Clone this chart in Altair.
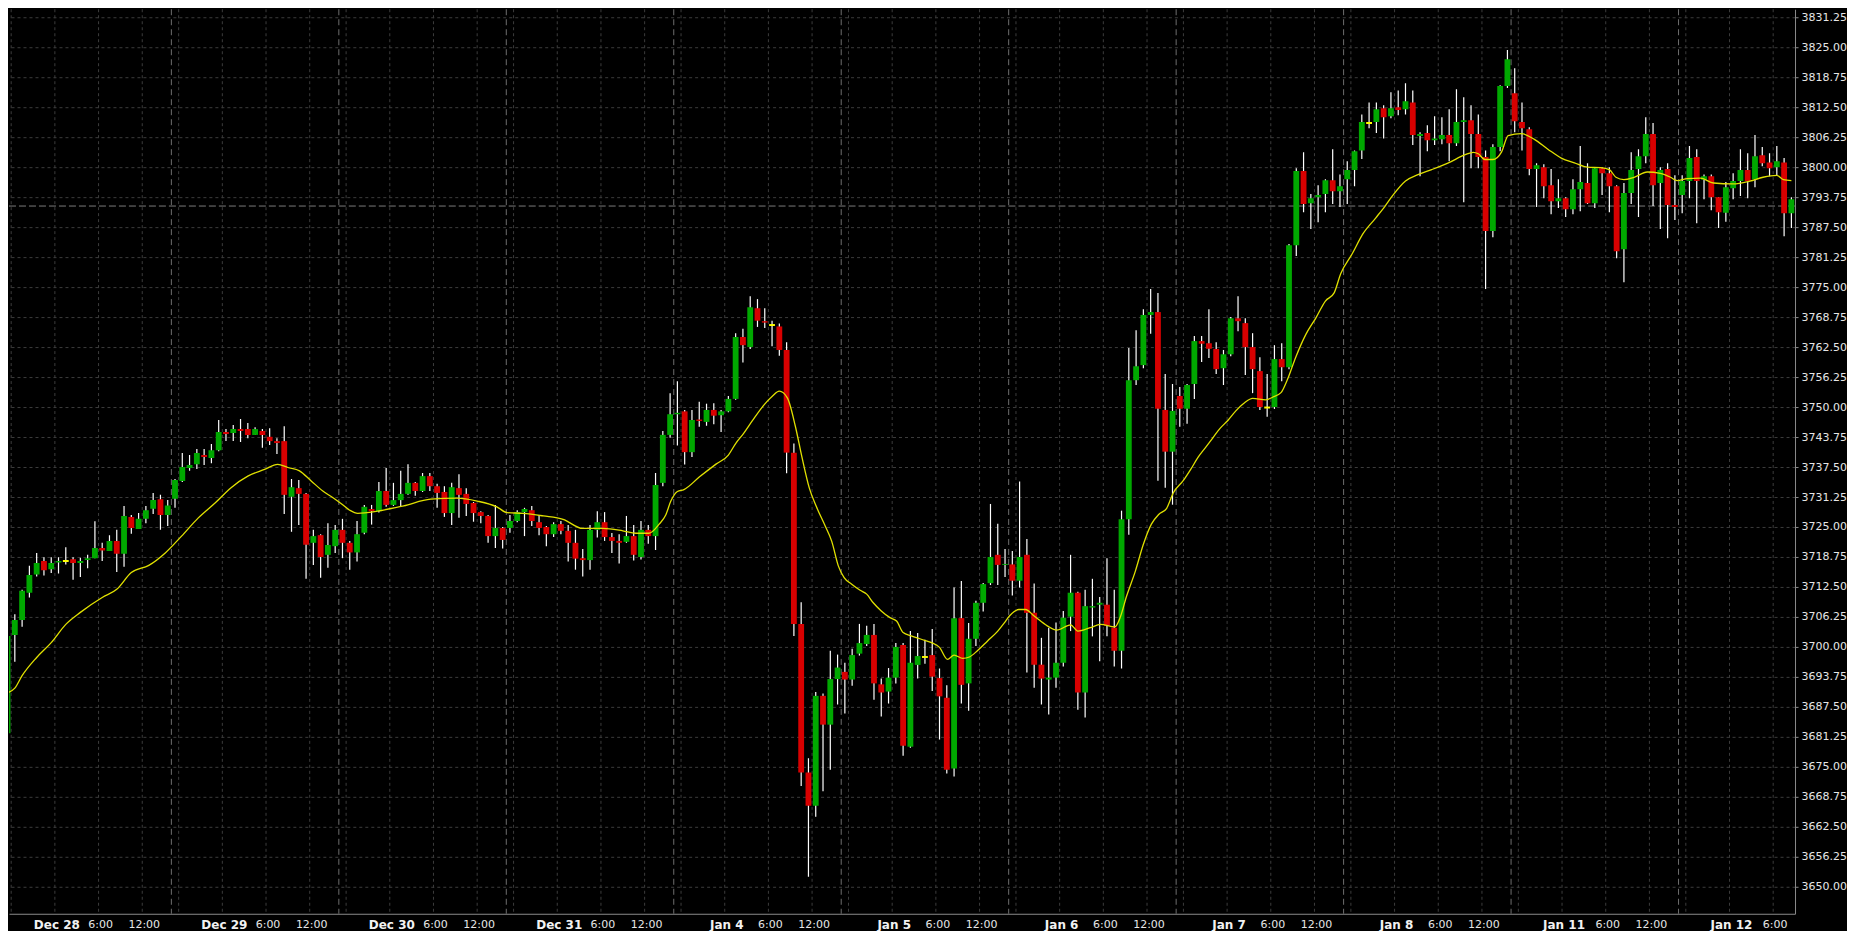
import altair as alt
import pandas as pd

# ---------------- data (hourly candles) ----------------
opens = [
    3682.0, 3702.5, 3705.6, 3711.3, 3715.1, 3717.9, 3716.2, 3717.6, 3717.9, 3718.3,
    3717.5, 3718.1, 3718.5, 3720.6, 3720.0, 3722.1, 3719.4, 3727.1, 3724.6, 3726.7,
    3728.8, 3730.8, 3727.5, 3730.9, 3734.6, 3737.3, 3738.1, 3740.0, 3739.4, 3741.0,
    3744.8, 3744.6, 3745.4, 3745.4, 3744.2, 3745.0, 3743.8, 3742.9, 3742.9, 3731.3,
    3733.1, 3731.9, 3721.7, 3723.3, 3719.2, 3721.0, 3724.4, 3721.7, 3719.7, 3723.8,
    3728.75, 3728.3, 3732.5, 3729.6, 3730.6, 3731.9, 3734.2, 3732.5, 3735.6, 3733.5,
    3732.3, 3727.9, 3733.1, 3731.9, 3730.0, 3728.1, 3727.3, 3723.1, 3724.8, 3724.8,
    3726.25, 3728.1, 3728.5, 3726.0, 3725.0, 3723.5, 3725.6, 3724.2, 3721.7, 3718.5,
    3718.1, 3724.4, 3726.0, 3722.9, 3722.1, 3721.9, 3723.1, 3718.75, 3724.4, 3723.1,
    3734.2, 3744.2, 3748.5, 3749.1, 3740.6, 3747.4, 3746.9, 3749.4, 3748.3, 3749.1,
    3751.7, 3764.6, 3762.5, 3770.6, 3767.9, 3767.1, 3766.8, 3761.9, 3740.5, 3704.8,
    3673.8, 3666.9, 3689.8, 3683.8, 3693.3, 3694.8, 3693.2, 3698.6, 3700.6, 3702.5,
    3692.2, 3690.7, 3693.6, 3700.4, 3679.2, 3696.25, 3697.9, 3698.3, 3693.5, 3689.4,
    3674.65, 3706.0, 3692.4, 3701.7, 3709.2, 3713.3, 3719.2, 3717.1, 3717.2, 3713.8,
    3719.2, 3707.1, 3696.3, 3693.2, 3693.6, 3696.7, 3706.3, 3711.3, 3690.5, 3708.2,
    3708.8, 3708.8, 3704.0, 3699.2, 3726.6, 3755.6, 3758.75, 3769.2, 3769.8, 3749.4,
    3740.7, 3752.3, 3749.65, 3754.8, 3763.75, 3763.3, 3762.1, 3758.1, 3761.0, 3768.5,
    3767.5, 3762.5, 3757.5, 3749.9, 3750.0, 3760.0, 3758.3, 3783.75, 3799.2, 3792.5,
    3793.75, 3794.4, 3797.3, 3795.0, 3797.5, 3799.4, 3803.5, 3809.2, 3809.4, 3812.3,
    3810.6, 3812.5, 3812.1, 3813.5, 3806.5, 3807.1, 3805.6, 3805.8, 3806.7, 3805.0,
    3809.4, 3809.8, 3806.9, 3802.1, 3786.7, 3804.2, 3816.9, 3815.4, 3809.4, 3807.9,
    3799.6, 3800.0, 3796.25, 3792.9, 3793.5, 3791.25, 3795.4, 3796.7, 3792.5, 3799.8,
    3798.75, 3796.0, 3782.9, 3794.6, 3799.6, 3802.3, 3806.9, 3796.7, 3799.6, 3792.1,
    3794.2, 3797.1, 3802.1, 3797.4, 3798.1, 3793.75, 3790.5, 3795.6, 3797.1, 3799.4,
    3797.5, 3802.5, 3801.0, 3800.0, 3801.0, 3790.4,
]
highs = [
    3703.0, 3706.8, 3711.9, 3716.9, 3719.6, 3718.7, 3718.7, 3718.7, 3720.8, 3718.7,
    3718.6, 3719.2, 3726.2, 3721.7, 3723.3, 3724.4, 3729.4, 3727.5, 3727.9, 3729.4,
    3732.1, 3731.7, 3730.6, 3735.0, 3740.4, 3740.0, 3741.25, 3741.25, 3742.3, 3747.3,
    3745.4, 3746.25, 3747.5, 3746.7, 3745.8, 3745.4, 3745.6, 3743.5, 3746.0, 3735.0,
    3734.8, 3732.1, 3724.4, 3723.5, 3725.8, 3725.4, 3726.7, 3722.1, 3726.25, 3729.6,
    3729.6, 3734.4, 3737.3, 3734.2, 3736.7, 3738.1, 3734.4, 3736.25, 3736.25, 3734.0,
    3733.5, 3734.2, 3736.0, 3733.1, 3730.2, 3728.3, 3727.5, 3729.6, 3725.0, 3727.5,
    3728.5, 3729.0, 3729.4, 3727.5, 3725.2, 3726.0, 3726.25, 3725.4, 3724.4, 3720.4,
    3725.4, 3728.3, 3728.1, 3723.75, 3723.5, 3727.3, 3725.4, 3726.25, 3725.4, 3736.25,
    3745.0, 3752.9, 3755.4, 3749.4, 3749.4, 3751.1, 3750.7, 3750.8, 3749.4, 3752.3,
    3765.4, 3766.3, 3773.1, 3772.5, 3770.6, 3768.0, 3767.4, 3763.5, 3742.4, 3709.3,
    3676.8, 3690.6, 3690.3, 3699.2, 3698.4, 3696.7, 3699.6, 3704.8, 3704.4, 3704.8,
    3693.4, 3695.6, 3700.8, 3700.8, 3703.3, 3702.9, 3701.5, 3703.75, 3695.5, 3692.0,
    3712.4, 3713.75, 3705.0, 3709.6, 3713.3, 3729.8, 3725.7, 3720.4, 3720.0, 3734.5,
    3722.5, 3713.2, 3701.9, 3704.0, 3705.1, 3707.5, 3719.2, 3711.5, 3711.9, 3714.2,
    3710.4, 3718.5, 3711.9, 3728.4, 3762.3, 3766.0, 3770.4, 3774.6, 3773.75, 3756.9,
    3754.8, 3754.2, 3754.8, 3764.8, 3764.8, 3770.4, 3763.5, 3761.9, 3768.75, 3773.1,
    3768.5, 3765.4, 3760.4, 3756.9, 3762.9, 3763.3, 3784.0, 3799.8, 3803.1, 3794.4,
    3796.25, 3797.5, 3803.75, 3798.5, 3801.25, 3803.5, 3811.0, 3813.5, 3813.5, 3812.9,
    3815.6, 3816.0, 3817.5, 3816.0, 3807.3, 3808.75, 3810.6, 3810.4, 3812.1, 3816.25,
    3814.6, 3812.9, 3811.0, 3803.5, 3804.8, 3817.1, 3824.4, 3820.6, 3813.5, 3808.3,
    3800.8, 3800.6, 3799.6, 3797.5, 3793.75, 3797.5, 3804.4, 3800.8, 3800.0, 3800.0,
    3800.0, 3796.25, 3796.7, 3803.1, 3803.75, 3810.4, 3809.2, 3800.0, 3800.8, 3798.3,
    3798.3, 3804.4, 3803.75, 3798.5, 3798.5, 3793.75, 3796.9, 3798.75, 3803.75, 3802.9,
    3806.7, 3804.2, 3802.9, 3804.4, 3801.9, 3793.75,
]
lows = [
    3681.0, 3696.9, 3704.2, 3710.3, 3714.7, 3714.9, 3715.4, 3715.3, 3717.2, 3714.0,
    3714.6, 3716.4, 3718.5, 3717.9, 3720.0, 3715.6, 3716.7, 3723.6, 3724.6, 3725.8,
    3727.7, 3724.4, 3725.2, 3729.0, 3734.4, 3736.7, 3737.1, 3737.9, 3738.3, 3740.8,
    3742.9, 3742.9, 3742.7, 3743.5, 3744.2, 3741.5, 3742.1, 3740.2, 3727.7, 3724.0,
    3725.4, 3714.2, 3717.1, 3714.4, 3716.5, 3719.6, 3718.5, 3716.1, 3717.8, 3723.5,
    3725.5, 3728.0, 3729.2, 3729.4, 3729.4, 3731.7, 3731.5, 3732.3, 3732.5, 3729.0,
    3727.1, 3725.4, 3726.9, 3727.3, 3726.1, 3725.8, 3721.7, 3720.6, 3720.5, 3723.8,
    3726.0, 3723.1, 3725.2, 3723.3, 3721.0, 3722.9, 3723.5, 3717.8, 3716.1, 3714.7,
    3716.1, 3722.8, 3722.1, 3719.6, 3717.4, 3721.7, 3718.0, 3718.2, 3721.5, 3720.2,
    3733.5, 3743.6, 3742.0, 3738.0, 3739.6, 3745.9, 3746.1, 3746.4, 3744.8, 3748.9,
    3751.5, 3759.3, 3762.1, 3766.7, 3766.5, 3762.7, 3760.7, 3736.2, 3702.3, 3671.0,
    3652.1, 3664.6, 3669.9, 3674.4, 3688.0, 3686.1, 3691.9, 3698.2, 3700.2, 3689.0,
    3685.5, 3688.2, 3692.4, 3677.3, 3679.0, 3693.4, 3696.5, 3690.8, 3680.7, 3673.6,
    3673.0, 3688.2, 3686.7, 3700.2, 3707.4, 3712.9, 3712.9, 3714.6, 3710.7, 3712.4,
    3694.65, 3691.5, 3688.0, 3685.9, 3691.5, 3695.9, 3703.3, 3686.9, 3685.3, 3702.2,
    3697.0, 3702.2, 3695.9, 3695.5, 3723.4, 3754.6, 3758.1, 3765.3, 3734.65, 3733.2,
    3729.65, 3745.9, 3746.5, 3751.7, 3759.4, 3760.2, 3756.9, 3754.6, 3760.6, 3765.8,
    3756.7, 3752.9, 3749.4, 3748.0, 3749.6, 3755.4, 3757.9, 3781.5, 3790.6, 3787.1,
    3788.5, 3790.6, 3792.3, 3791.7, 3792.3, 3796.0, 3801.7, 3808.1, 3807.1, 3806.0,
    3810.2, 3810.8, 3811.0, 3804.6, 3798.1, 3803.3, 3804.6, 3804.8, 3801.25, 3804.4,
    3792.7, 3799.8, 3799.8, 3774.6, 3785.4, 3803.3, 3816.5, 3807.3, 3803.5, 3798.3,
    3791.7, 3793.5, 3790.2, 3791.5, 3789.6, 3790.2, 3790.8, 3792.3, 3791.5, 3794.2,
    3790.6, 3781.0, 3776.0, 3792.3, 3789.6, 3800.8, 3791.9, 3787.1, 3785.2, 3789.0,
    3790.4, 3793.5, 3788.3, 3793.3, 3791.0, 3787.3, 3788.6, 3793.3, 3794.0, 3793.5,
    3795.8, 3800.2, 3798.1, 3798.3, 3785.6, 3787.3,
]
closes = [
    3702.3, 3705.6, 3711.7, 3715.0, 3717.5, 3716.0, 3717.5, 3717.9, 3717.9, 3717.5,
    3717.9, 3718.5, 3720.6, 3720.1, 3722.1, 3719.4, 3727.3, 3724.8, 3726.7, 3728.5,
    3730.6, 3727.5, 3729.5, 3734.8, 3737.5, 3737.9, 3740.4, 3739.6, 3741.0, 3744.8,
    3744.4, 3745.4, 3745.0, 3744.2, 3745.4, 3744.2, 3742.9, 3742.5, 3731.7, 3733.3,
    3731.9, 3721.3, 3723.1, 3718.75, 3721.25, 3724.4, 3721.7, 3719.7, 3723.5, 3729.2,
    3728.3, 3732.5, 3729.6, 3730.6, 3731.9, 3734.2, 3732.5, 3735.6, 3733.5, 3732.1,
    3727.9, 3733.3, 3731.7, 3729.8, 3727.9, 3727.3, 3723.1, 3724.8, 3722.3, 3726.25,
    3728.1, 3728.75, 3726.25, 3724.8, 3723.5, 3725.6, 3724.2, 3721.7, 3718.4, 3718.1,
    3724.4, 3726.0, 3722.9, 3722.1, 3721.7, 3723.1, 3719.2, 3724.4, 3723.1, 3733.75,
    3744.2, 3748.5, 3748.8, 3740.6, 3747.3, 3747.1, 3749.4, 3748.2, 3749.1, 3751.7,
    3764.6, 3762.9, 3770.8, 3768.0, 3767.6, 3767.1, 3761.9, 3740.5, 3704.8, 3673.8,
    3666.9, 3689.8, 3683.8, 3693.3, 3695.7, 3693.2, 3698.3, 3700.8, 3702.5, 3692.4,
    3690.5, 3693.6, 3700.0, 3679.4, 3696.7, 3698.1, 3697.9, 3693.8, 3689.7, 3674.4,
    3706.0, 3692.1, 3701.7, 3709.2, 3713.1, 3718.75, 3717.1, 3717.3, 3713.8, 3718.75,
    3707.1, 3696.3, 3693.4, 3693.6, 3696.7, 3706.1, 3711.3, 3690.5, 3708.5, 3708.5,
    3709.2, 3704.4, 3699.2, 3726.6, 3755.6, 3758.5, 3769.2, 3769.8, 3749.65, 3740.7,
    3749.2, 3749.65, 3754.6, 3763.75, 3763.2, 3762.15, 3757.9, 3761.0, 3768.5, 3767.9,
    3762.5, 3757.9, 3750.0, 3749.9, 3760.0, 3758.3, 3783.75, 3799.2, 3792.3, 3793.5,
    3794.2, 3797.3, 3795.0, 3796.0, 3799.4, 3803.3, 3809.4, 3809.2, 3812.1, 3810.4,
    3812.3, 3811.9, 3813.75, 3806.7, 3806.9, 3805.6, 3806.0, 3806.7, 3805.0, 3809.4,
    3809.8, 3806.9, 3802.1, 3786.7, 3804.2, 3816.9, 3822.5, 3809.6, 3808.1, 3799.6,
    3800.4, 3796.0, 3792.9, 3793.5, 3791.25, 3795.4, 3796.9, 3792.5, 3799.8, 3798.75,
    3796.0, 3782.5, 3794.6, 3799.4, 3802.3, 3806.9, 3796.25, 3799.4, 3792.1, 3791.7,
    3797.1, 3801.9, 3797.1, 3798.1, 3793.75, 3790.6, 3795.8, 3797.1, 3799.4, 3797.1,
    3802.3, 3800.8, 3799.8, 3801.25, 3790.4, 3793.3,
]

# moving-average line (bar position, value)
ma_pos = [
    0, 1, 2, 4, 6, 8, 10, 13, 15, 17,
    19.4, 21.7, 23.9, 26.2, 28.5, 30.7, 33.0, 35.3, 37.1, 38.5,
    40.1, 41.7, 43.3, 44.7, 45.8, 47.0, 48.1, 50.8, 54.4, 58.1,
    61.7, 64.5, 67.2, 68.6, 70.8, 73.6, 76.3, 79.0, 81.8, 84.5,
    86.3, 88.1, 89.5, 90.4, 91.1, 92.0, 92.9, 95.0, 97.3, 99.0,
    100.0, 101.1, 102.3, 103.6, 105.0, 106.0, 107.1, 108.2, 109.1, 110.1,
    111.1, 112.3, 113.2, 114.1, 114.9, 115.9, 117.1, 118.0, 118.9, 120.0,
    121.2, 122.1, 123.0, 124.1, 125.5, 126.9, 128.0, 129.1, 130.0, 131.2,
    132.1, 133.2, 134.6, 136.0, 136.9, 137.6, 138.9, 139.8, 141.0, 142.8,
    144.1, 146.0, 147.0, 148.7, 150.1, 152.1, 152.8, 153.7, 154.9, 156.0,
    157.1, 158.1, 159.2, 160.1, 161.5, 162.5, 163.5, 164.5, 165.5, 166.5,
    167.6, 168.7, 169.9, 171.0, 172.8, 173.8, 174.9, 175.8, 176.9, 178.3,
    179.7, 181.0, 182.2, 183.1, 184.7, 186.1, 187.9, 189.2, 190.2, 192.0,
    193.8, 195.6, 197.9, 200.2, 201.3, 202.0, 202.9, 204.0, 205.2, 206.1,
    207.9, 209.7, 211.6, 213.4, 215.2, 217.0, 218.8, 220.0, 220.9, 222.0,
    223.4, 225.2, 227.0, 228.4, 229.3, 230.7, 232.5, 234.3, 237.0, 239.3,
    241.1, 243.0, 243.9, 245.0,
]
ma_val = [
    3690.4, 3691.4, 3694.0, 3697.8, 3700.9, 3704.7, 3707.2, 3710.3, 3712.0, 3715.5,
    3717.0, 3719.65, 3723.1, 3726.9, 3730.0, 3733.2, 3735.6, 3737.0, 3738.05, 3737.4,
    3736.7, 3734.6, 3732.5, 3731.1, 3729.9, 3728.5, 3727.85, 3728.3, 3729.4, 3730.8,
    3731.0, 3730.4, 3729.2, 3728.0, 3727.85, 3727.3, 3726.6, 3724.7, 3724.7, 3724.2,
    3723.7, 3723.7, 3725.6, 3727.5, 3730.4, 3732.4, 3732.8, 3735.4, 3738.1, 3740.0,
    3742.4, 3744.5, 3747.15, 3749.9, 3752.2, 3753.3, 3751.9, 3746.0, 3739.6, 3733.2,
    3729.2, 3725.2, 3722.0, 3716.9, 3714.45, 3713.1, 3711.8, 3711.0, 3709.2, 3707.5,
    3706.1, 3705.4, 3703.0, 3702.3, 3701.6, 3700.9, 3699.9, 3697.4, 3698.3, 3697.6,
    3697.9, 3699.2, 3701.25, 3703.3, 3705.0, 3706.45, 3707.8, 3707.8, 3706.45, 3704.4,
    3703.5, 3704.6, 3703.3, 3704.0, 3704.7, 3704.2, 3706.1, 3710.6, 3715.8, 3721.4,
    3725.6, 3727.6, 3728.9, 3732.1, 3734.7, 3737.0, 3739.5, 3741.5, 3743.5, 3745.5,
    3747.2, 3749.2, 3750.9, 3751.8, 3751.5, 3752.1, 3753.0, 3755.8, 3760.3, 3765.1,
    3768.6, 3772.1, 3773.8, 3777.8, 3782.0, 3786.0, 3789.4, 3791.9, 3794.0, 3797.1,
    3798.5, 3799.5, 3800.9, 3802.6, 3803.1, 3802.8, 3801.6, 3801.6, 3803.2, 3806.6,
    3807.0, 3805.8, 3803.7, 3801.9, 3800.9, 3800.0, 3799.9, 3799.5, 3797.9, 3797.4,
    3797.9, 3799.0, 3798.7, 3797.9, 3797.2, 3797.6, 3797.7, 3796.7, 3796.5, 3797.1,
    3797.9, 3798.3, 3797.4, 3797.2,
]

day_names = ["Dec 28", "Dec 29", "Dec 30", "Dec 31", "Jan 4", "Jan 5",
             "Jan 6", "Jan 7", "Jan 8", "Jan 11", "Jan 12"]
time_names = ["6:00", "12:00"]
BARS_PER_DAY = 23                      # 17:00 .. 15:00 session
MINOR_GRID_BARS = [0.5, 6.5, 12.5, 18.5]   # left edges of 18:00, 0:00, 6:00, 12:00 bars
DAY_LABEL_BAR = 6.5                    # label centred on the 0:00 grid line
TIME_LABEL_BARS = [12.5, 18.5]         # 6:00 and 12:00 grid lines
last_price = 3791.9
y_ticks = [3650.00, 3656.25, 3662.50, 3668.75, 3675.00, 3681.25, 3687.50, 3693.75,
           3700.00, 3706.25, 3712.50, 3718.75, 3725.00, 3731.25, 3737.50, 3743.75,
           3750.00, 3756.25, 3762.50, 3768.75, 3775.00, 3781.25, 3787.50, 3793.75,
           3800.00, 3806.25, 3812.50, 3818.75, 3825.00, 3831.25]

# ---------------- tables ----------------
n = len(closes)
candles = pd.DataFrame({"i": list(range(n)), "o": opens, "h": highs, "l": lows, "c": closes})
ma = pd.DataFrame({"p": ma_pos, "v": ma_val})
days = list(range(len(day_names)))
minor = pd.DataFrame({"p": [BARS_PER_DAY * d + off for d in days for off in MINOR_GRID_BARS
                            if BARS_PER_DAY * d + off < n]})
major = pd.DataFrame({"p": [BARS_PER_DAY * d - 0.5 for d in days if d > 0]})
day_lab = pd.DataFrame({"p": [BARS_PER_DAY * d + DAY_LABEL_BAR for d in days], "t": day_names})
tp, tt = [], []
for d in days:
    for off, name in zip(TIME_LABEL_BARS, time_names):
        if BARS_PER_DAY * d + off < n:
            tp.append(BARS_PER_DAY * d + off)
            tt.append(name)
time_lab = pd.DataFrame({"p": tp, "t": tt})
bid = pd.DataFrame({"y": [last_price]})

# ---------------- chart ----------------
W, H = 1787, 905
xs = alt.Scale(domain=[0.2, 245.5], nice=False, zero=False)
ys = alt.Scale(domain=[3644.38, 3832.92], nice=False, zero=False)

xaxis = alt.Axis(title=None, labels=False, ticks=False, grid=False, domain=True,
                 domainColor="#8c8c8c", domainWidth=1)
yaxis = alt.Axis(title=None, orient="right", values=y_ticks, format=".2f",
                 labelColor="#e6e6e6", labelFont="DejaVu Sans", labelFontSize=11,
                 labelPadding=3, ticks=True, tickSize=3, tickColor="#8c8c8c", tickWidth=1,
                 grid=True, gridColor="#3c3c3c",
                 gridDash=[3, 3], gridWidth=1, domain=True, domainColor="#8c8c8c",
                 domainWidth=1, labelOverlap=False, labelFlush=False)

minor_rules = alt.Chart(minor).mark_rule(color="#3c3c3c", strokeDash=[3, 3], strokeWidth=1).encode(
    x=alt.X("p:Q", scale=xs, axis=xaxis))
major_rules = alt.Chart(major).mark_rule(color="#6e6e6e", strokeDash=[6, 4], strokeWidth=1).encode(
    x=alt.X("p:Q", scale=xs, axis=xaxis))
bid_rule = alt.Chart(bid).mark_rule(color="#7a7a7a", strokeDash=[7, 3], strokeWidth=1).encode(
    y=alt.Y("y:Q", scale=ys, axis=yaxis))

wicks = alt.Chart(candles).mark_rule(color="#ffffff", strokeWidth=1.2, clip=True).encode(
    x=alt.X("i:Q", scale=xs, axis=xaxis),
    y=alt.Y("l:Q", scale=ys, axis=yaxis),
    y2="h:Q",
)

bodies = alt.Chart(candles).transform_calculate(
    xl="datum.i - 0.4",
    xr="datum.i + 0.4",
    top="max(datum.o, datum.c) + (datum.o == datum.c ? 0.2 : 0)",
    bot="min(datum.o, datum.c) - (datum.o == datum.c ? 0.2 : 0)",
    dir="datum.c > datum.o ? 'up' : (datum.c < datum.o ? 'down' : 'flat')",
).mark_rect(clip=True).encode(
    x=alt.X("xl:Q", scale=xs, axis=xaxis),
    x2="xr:Q",
    y=alt.Y("top:Q", scale=ys, axis=yaxis),
    y2="bot:Q",
    color=alt.Color("dir:N", legend=None,
                    scale=alt.Scale(domain=["up", "down", "flat"],
                                    range=["#00a800", "#d80000", "#ffff00"])),
)

ma_line = alt.Chart(ma).mark_line(color="#e0e000", strokeWidth=1.3, clip=True,
                                  interpolate="monotone").encode(
    x=alt.X("p:Q", scale=xs, axis=xaxis),
    y=alt.Y("v:Q", scale=ys, axis=yaxis),
)

day_text = alt.Chart(day_lab).mark_text(font="DejaVu Sans", fontSize=12, fontWeight="bold",
                                        color="#f2f2f2", baseline="middle", align="center",
                                        dx=2).encode(
    x=alt.X("p:Q", scale=xs, axis=xaxis), y=alt.value(916), text="t:N")
time_text = alt.Chart(time_lab).mark_text(font="DejaVu Sans", fontSize=11,
                                          color="#e6e6e6", baseline="middle", align="center",
                                          dx=2).encode(
    x=alt.X("p:Q", scale=xs, axis=xaxis), y=alt.value(916), text="t:N")

chart = alt.layer(
    minor_rules, major_rules, bid_rule, wicks, bodies, ma_line, day_text, time_text
).properties(
    width=W, height=H,
    padding={"left": 0, "top": 0, "right": 0, "bottom": 0},
).configure(background="#000000").configure_view(stroke=None)

chart.save("out.html", embed_options={"renderer": "svg", "actions": False})
